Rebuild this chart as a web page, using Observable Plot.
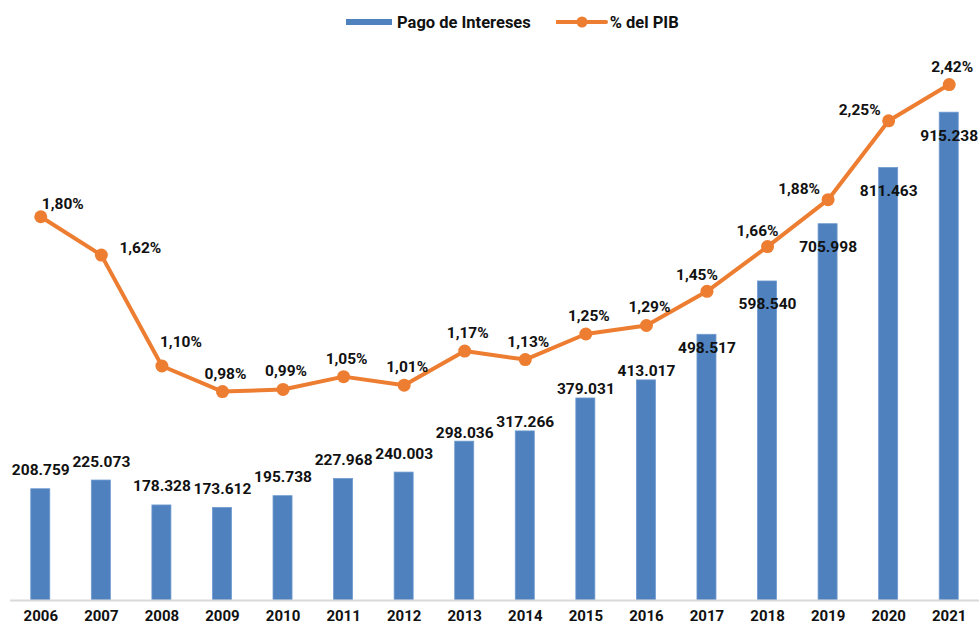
<!DOCTYPE html>
<html>
<head>
<meta charset="utf-8">
<script src="https://cdn.jsdelivr.net/npm/d3@7"></script>
<script src="https://cdn.jsdelivr.net/npm/@observablehq/plot@0.6"></script>
<style>
  html, body { margin: 0; padding: 0; background: #fff; }
  body { width: 979px; height: 624px; overflow: hidden; font-family: Roboto, "DejaVu Sans", sans-serif; }
  #legend { height: 44px; display: flex; align-items: center; justify-content: flex-start; font-size: 16.5px; font-weight: bold; color: #111; }
  .item { display: flex; align-items: center; }
</style>
</head>
<body>
<div id="legend">
  <div class="item" style="margin-left:346px">
    <svg width="48" height="12"><rect x="0" y="3" width="46" height="6" fill="#4e81bd"></rect></svg>
    <span style="margin-left:3px">Pago de Intereses</span>
  </div>
  <div class="item" style="margin-left:25px">
    <svg width="52" height="14"><line x1="1" y1="7" x2="50" y2="7" stroke="#ed7d31" stroke-width="4" stroke-linecap="round"></line><circle cx="26" cy="7" r="5.5" fill="#ed7d31"></circle></svg>
    <span style="margin-left:2px">% del PIB</span>
  </div>
</div>
<div id="chart"></div>
<script>
const years = ["2006","2007","2008","2009","2010","2011","2012","2013","2014","2015","2016","2017","2018","2019","2020","2021"];
const pagos = [208759, 225073, 178328, 173612, 195738, 227968, 240003, 298036, 317266, 379031, 413017, 498517, 598540, 705998, 811463, 915238];
const pibPct = [1.80, 1.62, 1.10, 0.98, 0.99, 1.05, 1.01, 1.17, 1.13, 1.25, 1.29, 1.45, 1.66, 1.88, 2.25, 2.42];

const leftMax = 1000000;   // primary axis max
const rightMax = 2.5;      // secondary axis max (%)
const k = leftMax / rightMax;

const data = years.map((y, i) => ({year: y, i, pago: pagos[i], pct: pibPct[i]}));

const loc = d3.formatLocale({decimal: ",", thousands: ".", grouping: [3], currency: ["", ""]});
const fmtPago = loc.format(",d");
const fmtPct = d => loc.format(".2f")(d) + "%";

const FONT = 'Roboto, "DejaVu Sans", sans-serif';
const txt = {fontSize: 15.5, fontWeight: "bold", fill: "#111"};

function barLabels(filter, dy) {
  return Plot.text(data.filter(filter), {x: "year", y: "pago", text: d => fmtPago(d.pago), dy, ...txt});
}
function pctLabels(filter, dx, dy) {
  return Plot.text(data.filter(filter), {x: "year", y: d => d.pct * k, text: d => fmtPct(d.pct), dx, dy, ...txt});
}

const chart = Plot.plot({
  width: 979,
  height: 580,
  marginTop: 23,
  marginBottom: 24,
  marginLeft: 10,
  marginRight: 0,
  style: {fontFamily: FONT, background: "#fff"},
  x: {domain: years, paddingInner: 0.686, paddingOuter: 0.343, round: false, label: null},
  y: {domain: [0, leftMax], axis: null},
  marks: [
    Plot.barY(data, {x: "year", y: "pago", fill: "#4e81bd", stroke: "#6f9ad0", strokeWidth: 0.8}),
    Plot.ruleY([0], {stroke: "#d9d9d9", strokeWidth: 2}),
    Plot.axisX({tickSize: 0, tickPadding: 10, fontSize: 15, fontWeight: "bold", color: "#111", label: null}),
    barLabels(d => d.i <= 6, -19),
    barLabels(d => d.i >= 7 && d.i <= 10, -9),
    barLabels(d => d.i === 11, 13),
    barLabels(d => d.i >= 12, 23),
    Plot.line(data, {x: "year", y: d => d.pct * k, stroke: "#ed7d31", strokeWidth: 4, strokeLinejoin: "round"}),
    Plot.dot(data, {x: "year", y: d => d.pct * k, r: 6.5, fill: "#ed7d31"}),
    pctLabels(d => d.i === 0, 22, -13),
    pctLabels(d => d.i === 1, 39, -7),
    pctLabels(d => d.i === 2, 19, -24),
    pctLabels(d => (d.i >= 3 && d.i <= 10) || d.i === 15, 3, -18),
    pctLabels(d => d.i === 11 || d.i === 12, -10, -16),
    pctLabels(d => d.i === 13 || d.i === 14, -29, -11)
  ]
});
document.getElementById("chart").appendChild(chart);
</script>
</body>
</html>
